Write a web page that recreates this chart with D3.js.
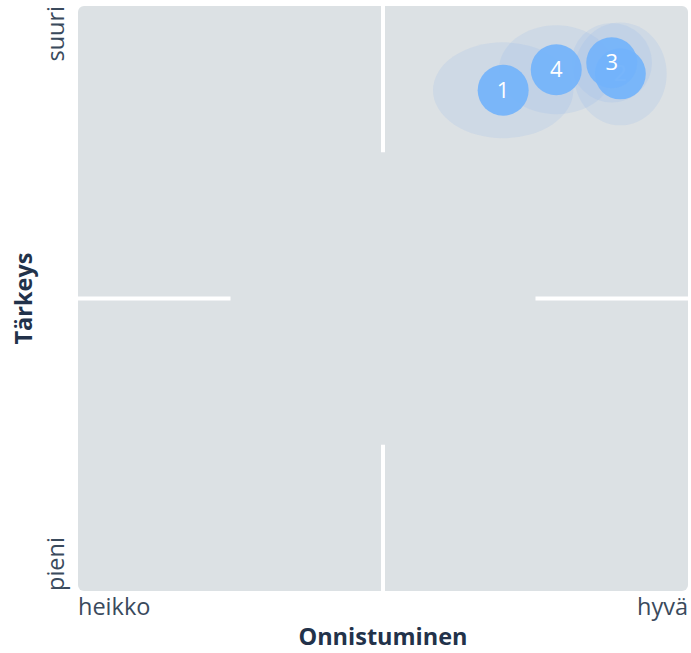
<!DOCTYPE html>
<html><head><meta charset="utf-8">
<script src="https://cdn.jsdelivr.net/npm/d3@7"></script>
<style>body{margin:0;background:#fff;} text{font-family:"Open Sans",sans-serif;}</style>
</head><body>
<svg id="chart" width="691" height="653"></svg>
<script>
const labels = ["1","2","3","4"];
const success = [69.7, 88.9, 87.5, 78.4];      // Onnistuminen
const importance = [85.6, 88.4, 90.3, 89.1];   // Tärkeys
const spreadX = [11.5, 7.6, 6.6, 9.4];
const spreadY = [8.2, 8.8, 6.8, 7.6];
const xTicks = ["heikko", "hyvä"];
const yTicks = ["pieni", "suuri"];
const xTitle = "Onnistuminen";
const yTitle = "Tärkeys";

const svg = d3.select("#chart");
const L = 78, R = 688, T = 6, B = 591;
const x = d3.scaleLinear().domain([0, 100]).range([L, R]);
const y = d3.scaleLinear().domain([0, 100]).range([B, T]);
const tickColor = "#3a4a5c";
const titleColor = "#22324a";
const fs = 23.5;

svg.append("rect").attr("x", L).attr("y", T).attr("width", R - L).attr("height", B - T)
  .attr("rx", 6).attr("fill", "#dce1e4");

const g = svg.append("g");
// cross lines (outer quarters)
const lw = 4;
[[0, 25], [75, 100]].forEach(([a, b]) => {
  g.append("rect").attr("x", x(50) - lw / 2).attr("y", y(b)).attr("width", lw).attr("height", y(a) - y(b)).attr("fill", "#fff");
  g.append("rect").attr("x", x(a)).attr("y", y(50) - lw / 2).attr("width", x(b) - x(a)).attr("height", lw).attr("fill", "#fff");
});

const data = labels.map((l, i) => ({l, x: success[i], y: importance[i], sx: spreadX[i], sy: spreadY[i]}));
// halos
g.selectAll("ellipse.halo").data(data).enter().append("ellipse")
  .attr("cx", d => x(d.x)).attr("cy", d => y(d.y))
  .attr("rx", d => x(d.x + d.sx) - x(d.x)).attr("ry", d => y(d.y) - y(d.y + d.sy))
  .attr("fill", "rgba(150,185,235,0.2)");
const node = g.selectAll("g.node").data(data).enter().append("g")
  .attr("transform", d => `translate(${x(d.x)},${y(d.y)})`);
node.append("circle").attr("r", 25.5).attr("fill", "#73b3fb").attr("fill-opacity", 0.92);
node.append("text").text(d => d.l).attr("text-anchor", "middle").attr("dy", "0.33em")
  .attr("fill", "#fff").attr("fill-opacity", d => d.l === "2" ? 0.35 : 1).attr("font-size", 22);

// tick labels
svg.append("text").text(xTicks[0]).attr("x", L).attr("y", 615).attr("fill", tickColor).attr("font-size", fs);
svg.append("text").text(xTicks[1]).attr("x", R).attr("y", 615).attr("text-anchor", "end").attr("fill", tickColor).attr("font-size", fs);
svg.append("text").text(yTicks[0]).attr("transform", `translate(64,${B}) rotate(-90)`).attr("fill", tickColor).attr("font-size", fs);
svg.append("text").text(yTicks[1]).attr("transform", `translate(64,${T}) rotate(-90)`).attr("text-anchor", "end").attr("fill", tickColor).attr("font-size", fs);
// titles
svg.append("text").text(xTitle).attr("x", (L + R) / 2).attr("y", 645).attr("text-anchor", "middle")
  .attr("font-weight", "bold").attr("fill", titleColor).attr("font-size", fs);
svg.append("text").text(yTitle).attr("transform", `translate(32,${(T + B) / 2}) rotate(-90)`).attr("text-anchor", "middle")
  .attr("font-weight", "bold").attr("fill", titleColor).attr("font-size", fs);
</script>
</body></html>
